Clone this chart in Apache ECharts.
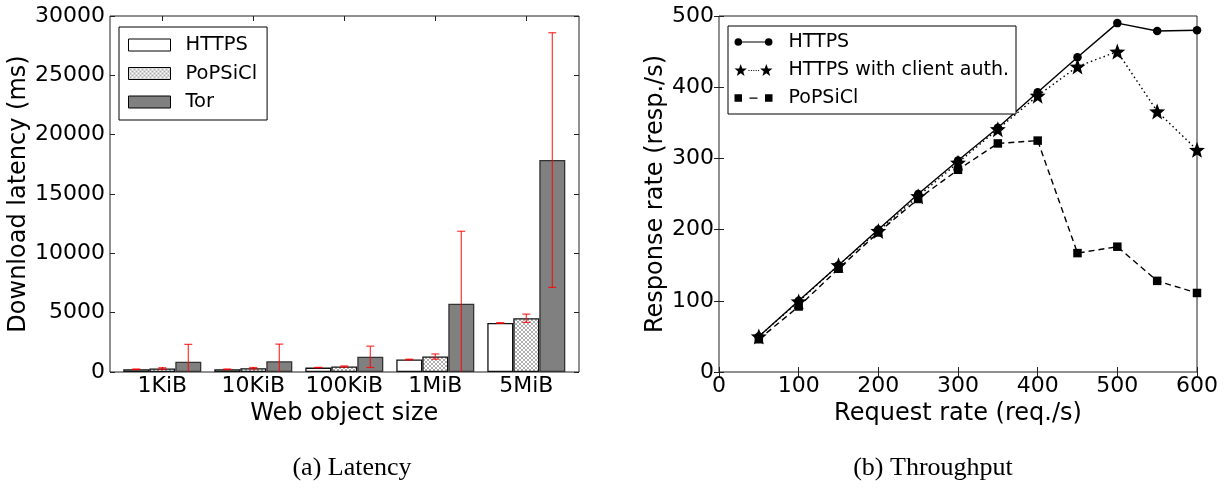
<!DOCTYPE html>
<html>
<head>
<meta charset="utf-8">
<script src="https://cdn.jsdelivr.net/npm/echarts@6/dist/echarts.min.js"></script>
<style>
  html, body { margin: 0; padding: 0; background: #fff; }
  #chart { width: 1228px; height: 490px; }
</style>
</head>
<body>
<div id="chart"></div>
<script>
// ---- (a) Latency: mean download latency per web object size, with std. deviation ----
const sizeLabels = ['1KiB', '10KiB', '100KiB', '1MiB', '5MiB'];
const latencyNames = ['HTTPS', 'PoPSiCl', 'Tor'];
const httpsLatency = [230, 230, 370, 1050, 4130];
const httpsLatencyErr = [20, 20, 20, 30, 30];
const popsiclLatency = [300, 320, 460, 1300, 4530];
const popsiclLatencyErr = [60, 60, 50, 220, 350];
const torLatency = [870, 900, 1280, 5760, 17860];
const torLatencyErr = [1460, 1450, 900, 6100, 10730];
const latencyTicks = [0, 5000, 10000, 15000, 20000, 25000, 30000];

// ---- (b) Throughput: response rate against request rate ----
const requestRates = [50, 100, 150, 200, 250, 300, 350, 400, 450, 500, 550, 600];
const throughputNames = ['HTTPS', 'HTTPS with client auth.', 'PoPSiCl'];
const httpsResponse = [50, 100, 150, 200, 250, 297, 343, 393, 442, 490, 479, 480];
const clientAuthResponse = [50, 99, 150, 198, 247, 294, 341, 388, 429, 450, 366, 312];
const popsiclResponse = [46, 92, 145, 196, 243, 284, 321, 325, 167, 176, 128, 111];
const rateTicks = [0, 100, 200, 300, 400, 500, 600];
const responseTicks = [0, 100, 200, 300, 400, 500];

const FONT = 'DejaVu Sans';
const FRAME = '#222';
const BAR_W = 26;
const CAP = 4;
const ERR_COLOR = 'rgba(255, 0, 0, 0.8)';

const chart = echarts.init(document.getElementById('chart'), null, { renderer: 'canvas' });

// fine cross-hatch used for the PoPSiCl bars
function hatchPattern() {
  const c = document.createElement('canvas');
  c.width = 4; c.height = 4;
  const g = c.getContext('2d');
  g.fillStyle = '#fff';
  g.fillRect(0, 0, 4, 4);
  g.strokeStyle = '#9a9a9a';
  g.lineWidth = 0.8;
  g.beginPath();
  g.moveTo(0, 0); g.lineTo(4, 4);
  g.moveTo(4, 0); g.lineTo(0, 4);
  g.stroke();
  return c;
}

// legend glyphs: two markers joined by the series' line style
function circlePath(cx, cy, r) {
  return `M${cx - r} ${cy} A${r} ${r} 0 1 0 ${cx + r} ${cy} A${r} ${r} 0 1 0 ${cx - r} ${cy} Z `;
}
function rectPath(x, y, w, h) {
  return `M${x} ${y} L${x + w} ${y} L${x + w} ${y + h} L${x} ${y + h} Z `;
}
function starPath(cx, cy, R) {
  const r = R * 0.42;
  let d = '';
  for (let k = 0; k < 10; k++) {
    const rad = k % 2 === 0 ? R : r;
    const a = -Math.PI / 2 + k * Math.PI / 5;
    d += (k === 0 ? 'M' : 'L') + (cx + rad * Math.cos(a)).toFixed(2) + ' ' + (cy + rad * Math.sin(a)).toFixed(2) + ' ';
  }
  return d + 'Z ';
}
const STAR_SYMBOL = 'path://' + starPath(0, 0, 1);

const iconHttps = 'path://' + circlePath(3.8, 3.8, 3.8) + circlePath(34.2, 3.8, 3.8) + rectPath(7.6, 3.2, 22.8, 1.2);
let dots = '';
for (let x = 14; x <= 24; x += 2.4) dots += rectPath(x, 6, 1, 1);
const iconClient = 'path://' + starPath(6.2, 6.5, 6.5) + starPath(31.8, 6.5, 6.5) + dots;
const iconPopsicl = 'path://' + rectPath(0, 0, 7.5, 7.5) + rectPath(30.5, 0, 7.5, 7.5) + rectPath(15, 3.2, 8, 1.2);

const tickStyle = { show: true, inside: true, length: 5, lineStyle: { color: FRAME, width: 1 } };
const labelStyle = { fontFamily: FONT, fontSize: 22, color: '#000' };
const nameStyle = { fontFamily: FONT, fontSize: 24, color: '#000' };
const plainNumber = v => String(v);

function errorBars(name, means, errs, slot) {
  return {
    type: 'custom',
    name: name,
    xAxisIndex: 1,
    yAxisIndex: 2,
    clip: true,
    z: 5,
    silent: true,
    data: means.map((m, i) => [i, m, errs[i]]),
    renderItem: function (params, api) {
      const i = api.value(0), m = api.value(1), e = api.value(2);
      const cx = api.coord([i, m])[0] + slot * BAR_W;
      const yt = api.coord([i, m + e])[1];
      const yb = api.coord([i, m - e])[1];
      const style = { stroke: ERR_COLOR, lineWidth: 1.2 };
      return {
        type: 'group',
        children: [
          { type: 'line', shape: { x1: cx, y1: yt, x2: cx, y2: yb }, style: style },
          { type: 'line', shape: { x1: cx - CAP, y1: yt, x2: cx + CAP, y2: yt }, style: style },
          { type: 'line', shape: { x1: cx - CAP, y1: yb, x2: cx + CAP, y2: yb }, style: style }
        ]
      };
    }
  };
}

const barStyles = [
  { color: '#fff', borderColor: '#111', borderWidth: 1.3 },
  { color: { image: hatchPattern(), repeat: 'repeat' }, borderColor: '#111', borderWidth: 1.3 },
  { color: '#808080', borderColor: '#333', borderWidth: 1.3 }
];
const latencyMeans = [httpsLatency, popsiclLatency, torLatency];
const latencyErrs = [httpsLatencyErr, popsiclLatencyErr, torLatencyErr];

const lineSeriesData = [httpsResponse, clientAuthResponse, popsiclResponse];
const lineLooks = [
  { symbol: 'circle', symbolSize: 8.5, lineType: 'solid' },
  { symbol: STAR_SYMBOL, symbolSize: 16, lineType: [1.5, 3] },
  { symbol: 'rect', symbolSize: 8.5, lineType: [6, 4] }
];

const series = [];
latencyNames.forEach((n, k) => {
  series.push({
    type: 'bar',
    name: 'lat:' + n,
    xAxisIndex: 1,
    yAxisIndex: 2,
    data: latencyMeans[k],
    barWidth: BAR_W,
    barGap: '0%',
    itemStyle: barStyles[k],
    silent: true
  });
});
latencyNames.forEach((n, k) => {
  series.push(errorBars('err:' + n, latencyMeans[k], latencyErrs[k], k - 1));
});
throughputNames.forEach((n, k) => {
  series.push({
    type: 'line',
    name: 'tp:' + n,
    xAxisIndex: 3,
    yAxisIndex: 3,
    data: requestRates.map((r, i) => [r, lineSeriesData[k][i]]),
    symbol: lineLooks[k].symbol,
    symbolSize: lineLooks[k].symbolSize,
    showAllSymbol: true,
    lineStyle: { color: '#000', width: 1.4, type: lineLooks[k].lineType },
    itemStyle: { color: '#000', borderWidth: 0 },
    silent: true,
    z: 3 + k
  });
});

const option = {
  animation: false,
  backgroundColor: '#fff',
  textStyle: { fontFamily: FONT },
  title: [
    { text: '(a) Latency', left: 347, top: 450, textAlign: 'center',
      textStyle: { fontFamily: 'Liberation Serif', fontSize: 26, fontWeight: 'normal', color: '#000' } },
    { text: '(b) Throughput', left: 928, top: 450, textAlign: 'center',
      textStyle: { fontFamily: 'Liberation Serif', fontSize: 26, fontWeight: 'normal', color: '#000' } }
  ],
  grid: [
    { left: 110, top: 16, width: 469, height: 356, show: true, borderColor: FRAME, borderWidth: 1, backgroundColor: 'transparent' },
    { left: 116.8, top: 16, width: 455, height: 356 },
    { left: 719, top: 16, width: 478, height: 356, show: true, borderColor: FRAME, borderWidth: 1, backgroundColor: 'transparent' }
  ],
  xAxis: [
    { type: 'value', gridIndex: 0, min: 0, max: 1, show: false },
    { type: 'category', gridIndex: 1, data: sizeLabels, position: 'bottom',
      axisLine: { show: false }, axisTick: Object.assign({ alignWithLabel: true, interval: 0 }, tickStyle),
      axisLabel: Object.assign({ margin: 3, interval: 0, hideOverlap: false }, labelStyle), splitLine: { show: false },
      name: 'Web object size', nameLocation: 'middle', nameGap: 29, nameTextStyle: nameStyle },
    { type: 'category', gridIndex: 1, data: sizeLabels, position: 'top',
      axisLine: { show: false }, axisTick: Object.assign({ alignWithLabel: true, interval: 0 }, tickStyle),
      axisLabel: { show: false }, splitLine: { show: false } },
    { type: 'value', gridIndex: 2, position: 'bottom', min: rateTicks[0], max: rateTicks[rateTicks.length - 1],
      interval: rateTicks[1] - rateTicks[0],
      axisLine: { show: false }, axisTick: tickStyle, splitLine: { show: false },
      axisLabel: Object.assign({ margin: 3, formatter: plainNumber }, labelStyle),
      name: 'Request rate (req./s)', nameLocation: 'middle', nameGap: 29, nameTextStyle: nameStyle },
    { type: 'value', gridIndex: 2, position: 'top', min: rateTicks[0], max: rateTicks[rateTicks.length - 1],
      interval: rateTicks[1] - rateTicks[0],
      axisLine: { show: false }, axisTick: tickStyle, splitLine: { show: false }, axisLabel: { show: false } }
  ],
  yAxis: [
    { type: 'value', gridIndex: 0, position: 'left', min: latencyTicks[0], max: latencyTicks[latencyTicks.length - 1],
      interval: latencyTicks[1] - latencyTicks[0],
      axisLine: { show: false }, axisTick: tickStyle, splitLine: { show: false },
      axisLabel: Object.assign({ margin: 5, formatter: plainNumber }, labelStyle),
      name: 'Download latency (ms)', nameLocation: 'middle', nameGap: 76, nameTextStyle: nameStyle },
    { type: 'value', gridIndex: 0, position: 'right', min: latencyTicks[0], max: latencyTicks[latencyTicks.length - 1],
      interval: latencyTicks[1] - latencyTicks[0],
      axisLine: { show: false }, axisTick: tickStyle, splitLine: { show: false }, axisLabel: { show: false } },
    { type: 'value', gridIndex: 1, min: latencyTicks[0], max: latencyTicks[latencyTicks.length - 1], show: false },
    { type: 'value', gridIndex: 2, position: 'left', min: responseTicks[0], max: responseTicks[responseTicks.length - 1],
      interval: responseTicks[1] - responseTicks[0],
      axisLine: { show: false }, axisTick: tickStyle, splitLine: { show: false },
      axisLabel: Object.assign({ margin: 5, formatter: plainNumber }, labelStyle),
      name: 'Response rate (resp./s)', nameLocation: 'middle', nameGap: 50, nameTextStyle: nameStyle },
    { type: 'value', gridIndex: 2, position: 'right', min: responseTicks[0], max: responseTicks[responseTicks.length - 1],
      interval: responseTicks[1] - responseTicks[0],
      axisLine: { show: false }, axisTick: tickStyle, splitLine: { show: false }, axisLabel: { show: false } }
  ],
  legend: [
    {
      data: latencyNames.map(n => ({ name: 'lat:' + n, icon: 'rect' })),
      formatter: n => n.slice(4),
      orient: 'vertical', left: 119, top: 27,
      itemWidth: 42, itemHeight: 12, itemGap: 8.5,
      padding: [8, 10, 8, 9],
      borderColor: '#000', borderWidth: 1, borderRadius: 0, backgroundColor: '#fff',
      selectedMode: false,
      itemStyle: { borderColor: '#000', borderWidth: 1 },
      textStyle: { fontFamily: FONT, fontSize: 19.5, color: '#000', lineHeight: 20, padding: [0, 0, 0, 10] }
    },
    {
      data: [
        { name: 'tp:' + throughputNames[0], icon: iconHttps },
        { name: 'tp:' + throughputNames[1], icon: iconClient },
        { name: 'tp:' + throughputNames[2], icon: iconPopsicl }
      ],
      formatter: n => n.slice(3),
      orient: 'vertical', left: 728, top: 26,
      itemWidth: 38, itemHeight: 13, itemGap: 8, symbolKeepAspect: true,
      padding: [6, 7, 6, 6.5],
      borderColor: '#000', borderWidth: 1, borderRadius: 0, backgroundColor: '#fff',
      selectedMode: false,
      itemStyle: { color: '#000', borderWidth: 0 },
      textStyle: { fontFamily: FONT, fontSize: 19, color: '#000', lineHeight: 20, padding: [0, 0, 0, 11] }
    }
  ],
  series: series
};

chart.setOption(option);
</script>
</body>
</html>
